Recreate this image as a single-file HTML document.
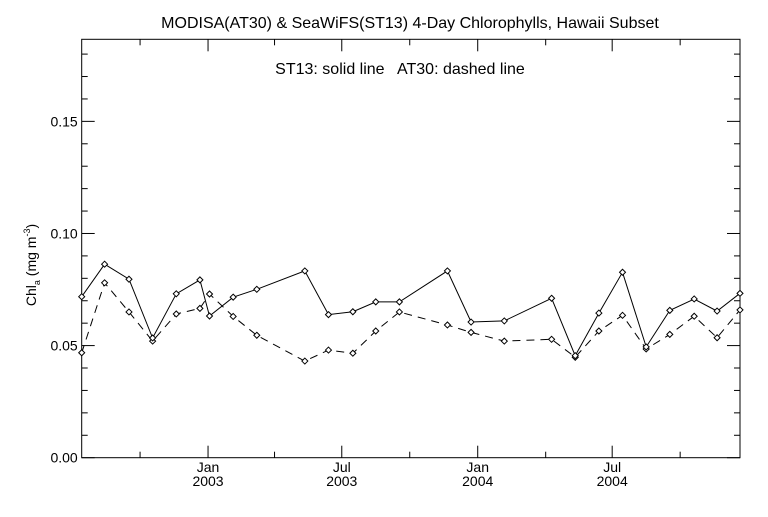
<!DOCTYPE html>
<html><head><meta charset="utf-8"><style>
body{margin:0;background:#fff;}
svg text{font-family:"Liberation Sans",sans-serif;fill:#000;}
</style></head><body>
<svg width="768" height="512" xmlns="http://www.w3.org/2000/svg">
<rect width="768" height="512" fill="#fff"/>
<g id="g"></g>
</svg>
<script>
const dayOffsets=[-171,-140,-107,-75,-43,-11,2,34,66,131,163,196,227,259,324,356,401,465,497,529,561,593,625,658,689,720];
const st13=[0.0718,0.0863,0.0796,0.0534,0.0731,0.0793,0.0632,0.0716,0.0751,0.0833,0.0638,0.0651,0.0695,0.0695,0.0833,0.0605,0.0610,0.0711,0.0455,0.0645,0.0827,0.0494,0.0657,0.0708,0.0654,0.0733];
const at30=[0.0468,0.0780,0.0650,0.0520,0.0641,0.0666,0.0730,0.0630,0.0546,0.0431,0.0480,0.0466,0.0565,0.0650,0.0592,0.0559,0.0520,0.0528,0.0448,0.0565,0.0635,0.0485,0.0550,0.0631,0.0535,0.0659];
const yTicks=[0.00,0.05,0.10,0.15];
const xMajorDays=[0,181,365,547];
const xMajorLabels=[["Jan","2003"],["Jul","2003"],["Jan","2004"],["Jul","2004"]];
const xMinorDays=[-92,90,273,457,639];

const L=81.7,R=740,T=39.3,B=457.7;
const dMin=-171,dMax=720,yMin=0,yMax=0.1866;
const X=d=>L+(d-dMin)/(dMax-dMin)*(R-L);
const Y=v=>B-(v-yMin)/(yMax-yMin)*(B-T);
const NS="http://www.w3.org/2000/svg";
const g=document.getElementById('g');
function el(t,a,p){const e=document.createElementNS(NS,t);for(const k in a)e.setAttribute(k,a[k]);(p||g).appendChild(e);return e;}

const frame=el('rect',{x:L,y:T,width:R-L,height:B-T,fill:'none',stroke:'#000','stroke-width':1});



// y ticks
for(let i=0;i<=18;i++){const v=i*0.01;const y=Y(v);const len=(i%5===0)?13:6;
 const t1=el('line',{x1:L,x2:L+len,y1:y,y2:y,stroke:'#000'});
 
 
 const t2=el('line',{x1:R,x2:R-len,y1:y,y2:y,stroke:'#000'});
 
 }
yTicks.forEach(v=>{const t=el('text',{x:L-4,y:Y(v)+5,'text-anchor':'end','font-size':14});t.textContent=v.toFixed(2);
 
 });
// x ticks
xMajorDays.forEach((d,i)=>{const x=X(d);
 const a=el('line',{x1:x,x2:x,y1:B,y2:B-12,stroke:'#000'});
 
 
 const b=el('line',{x1:x,x2:x,y1:T,y2:T+12,stroke:'#000'});
 
 
 const t=el('text',{x:x,y:472,'text-anchor':'middle','font-size':14});t.textContent=xMajorLabels[i][0];
 
 
 const t2=el('text',{x:x,y:486,'text-anchor':'middle','font-size':14});t2.textContent=xMajorLabels[i][1];
 
 });
xMinorDays.forEach(d=>{const x=X(d);
 const a=el('line',{x1:x,x2:x,y1:B,y2:B-6,stroke:'#000'});
 
 
 const b=el('line',{x1:x,x2:x,y1:T,y2:T+6,stroke:'#000'});
 
 });

function series(vals,name,dash){
 const pts=dayOffsets.map((d,i)=>X(d).toFixed(1)+','+Y(vals[i]).toFixed(1)).join(' ');
 const a={points:pts,fill:'none',stroke:'#000','stroke-width':1};if(dash)a['stroke-dasharray']=dash;
 const p=el('polyline',a);
 
 
 dayOffsets.forEach((d,i)=>{const x=X(d),y=Y(vals[i]);
  const m=el('polygon',{points:`${x},${y-3} ${x+3},${y} ${x},${y+3} ${x-3},${y}`,fill:'#fff',stroke:'#000','stroke-width':1});
  
  });
}
series(at30,'at30','8,6');
series(st13,'st13',null);

const title=el('text',{x:410,y:28,'text-anchor':'middle','font-size':16});
title.textContent='MODISA(AT30) & SeaWiFS(ST13) 4-Day Chlorophylls, Hawaii Subset';


const leg=el('text',{x:400,y:74,'text-anchor':'middle','font-size':16});
leg.textContent='ST13: solid line   AT30: dashed line';
leg.setAttribute('xml:space','preserve');
leg.style.whiteSpace='pre';


const yt=el('text',{x:0,y:0,'text-anchor':'middle','font-size':14,transform:'translate(36,265) rotate(-90)'});
yt.innerHTML='Chl<tspan font-size="9" dy="4">a</tspan><tspan dy="-4"> (mg m</tspan><tspan font-size="9" dy="-6">-3</tspan><tspan dy="6">)</tspan>';


</script>
</body></html>
